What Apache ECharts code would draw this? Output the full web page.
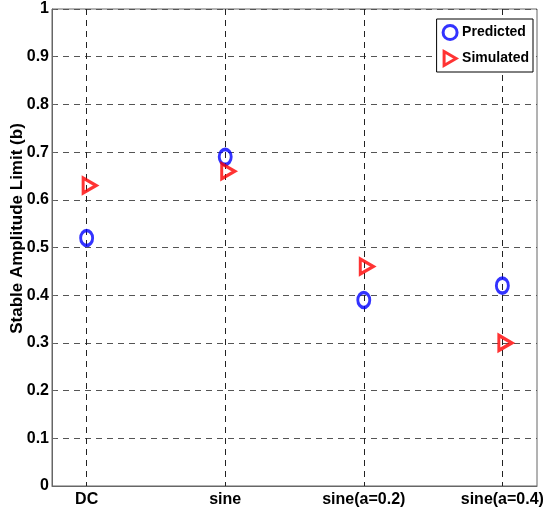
<!DOCTYPE html>
<html><head><meta charset="utf-8">
<script src="https://cdn.jsdelivr.net/npm/echarts@6/dist/echarts.min.js"></script>
<style>html,body{margin:0;padding:0;background:#fff}#c{width:545px;height:516px}</style>
</head><body><div id="c"></div>
<script>
const categories = ['DC', 'sine', 'sine(a=0.2)', 'sine(a=0.4)'];
const predicted = [0.52, 0.69, 0.39, 0.42];
const simulated = [0.63, 0.66, 0.46, 0.30];
const yName = 'Stable Amplitude Limit (b)';

const font = 'Liberation Sans, Arial, sans-serif';
const chart = echarts.init(document.getElementById('c'));
const pts = arr => arr.map((v, i) => [i, v]);
const triPath = 'path://M0,0 L12,7 L0,14 Z';

chart.setOption({
  animation: false,
  backgroundColor: '#fff',
  grid: { left: 52, right: 8, top: 9, bottom: 30, containLabel: false, outerBoundsMode: 'none', show: true, borderColor: '#666', borderWidth: 1, backgroundColor: 'transparent' },
  legend: {
    orient: 'vertical', right: 12, top: 19,
    backgroundColor: '#fff', borderColor: '#000', borderWidth: 1,
    padding: [5, 4, 5, 5], itemGap: 9, itemWidth: 14, itemHeight: 14,
    textStyle: { fontFamily: font, fontWeight: 'bold', fontSize: 14, color: '#000' },
    data: [
      { name: 'Predicted', icon: 'circle', itemStyle: { color: 'transparent', borderColor: '#0000ff', borderWidth: 3 } },
      { name: 'Simulated', icon: triPath, itemStyle: { color: 'transparent', borderColor: '#ff0000', borderWidth: 3 } }
    ]
  },
  xAxis: {
    type: 'value', min: -0.25, max: 3.25, interval: 0.25,
    axisLine: { show: true, onZero: false, lineStyle: { color: '#666' } },
    axisTick: { show: false },
    splitLine: { show: false },
    axisLabel: {
      margin: 6, color: '#000', fontFamily: font, fontWeight: 'bold', fontSize: 16,
      formatter: v => Number.isInteger(v) && v >= 0 && v < categories.length ? categories[v] : ''
    }
  },
  yAxis: {
    type: 'value', min: 0, max: 1, interval: 0.1,
    name: yName, nameLocation: 'middle', nameGap: 26, nameMoveOverlap: false,
    nameTextStyle: { fontFamily: font, fontWeight: 'bold', fontSize: 17, color: '#000', padding: [0, 0, 0, 38] },
    axisLine: { show: true, onZero: false, lineStyle: { color: '#666' } },
    axisTick: { show: true, inside: true, length: 4, lineStyle: { color: '#666' } },
    splitLine: { show: true, lineStyle: { color: '#555', type: [6, 5], width: 1 } },
    axisLabel: {
      margin: 3, color: '#000', fontFamily: font, fontWeight: 'bold', fontSize: 16,
      formatter: v => (Math.round(v * 10) / 10).toString()
    }
  },
  series: [
    {
      name: 'Predicted', type: 'scatter', data: pts(predicted),
      symbol: 'circle', symbolSize: [12, 15], z: 5,
      itemStyle: { color: 'transparent', borderColor: '#0000ff', borderWidth: 3.2 },
      markLine: {
        silent: true, symbol: 'none', label: { show: false }, z: 1,
        lineStyle: { color: '#222', type: [6, 5], width: 1 },
        data: categories.map((c, i) => [{ coord: [i, 1] }, { coord: [i, 0] }])
      }
    },
    {
      name: 'Simulated', type: 'scatter', data: pts(simulated),
      symbol: triPath, symbolSize: [13, 15], symbolOffset: [3, 0], z: 5,
      itemStyle: { color: 'transparent', borderColor: '#ff0000', borderWidth: 3.2 }
    }
  ]
});
</script></body></html>
